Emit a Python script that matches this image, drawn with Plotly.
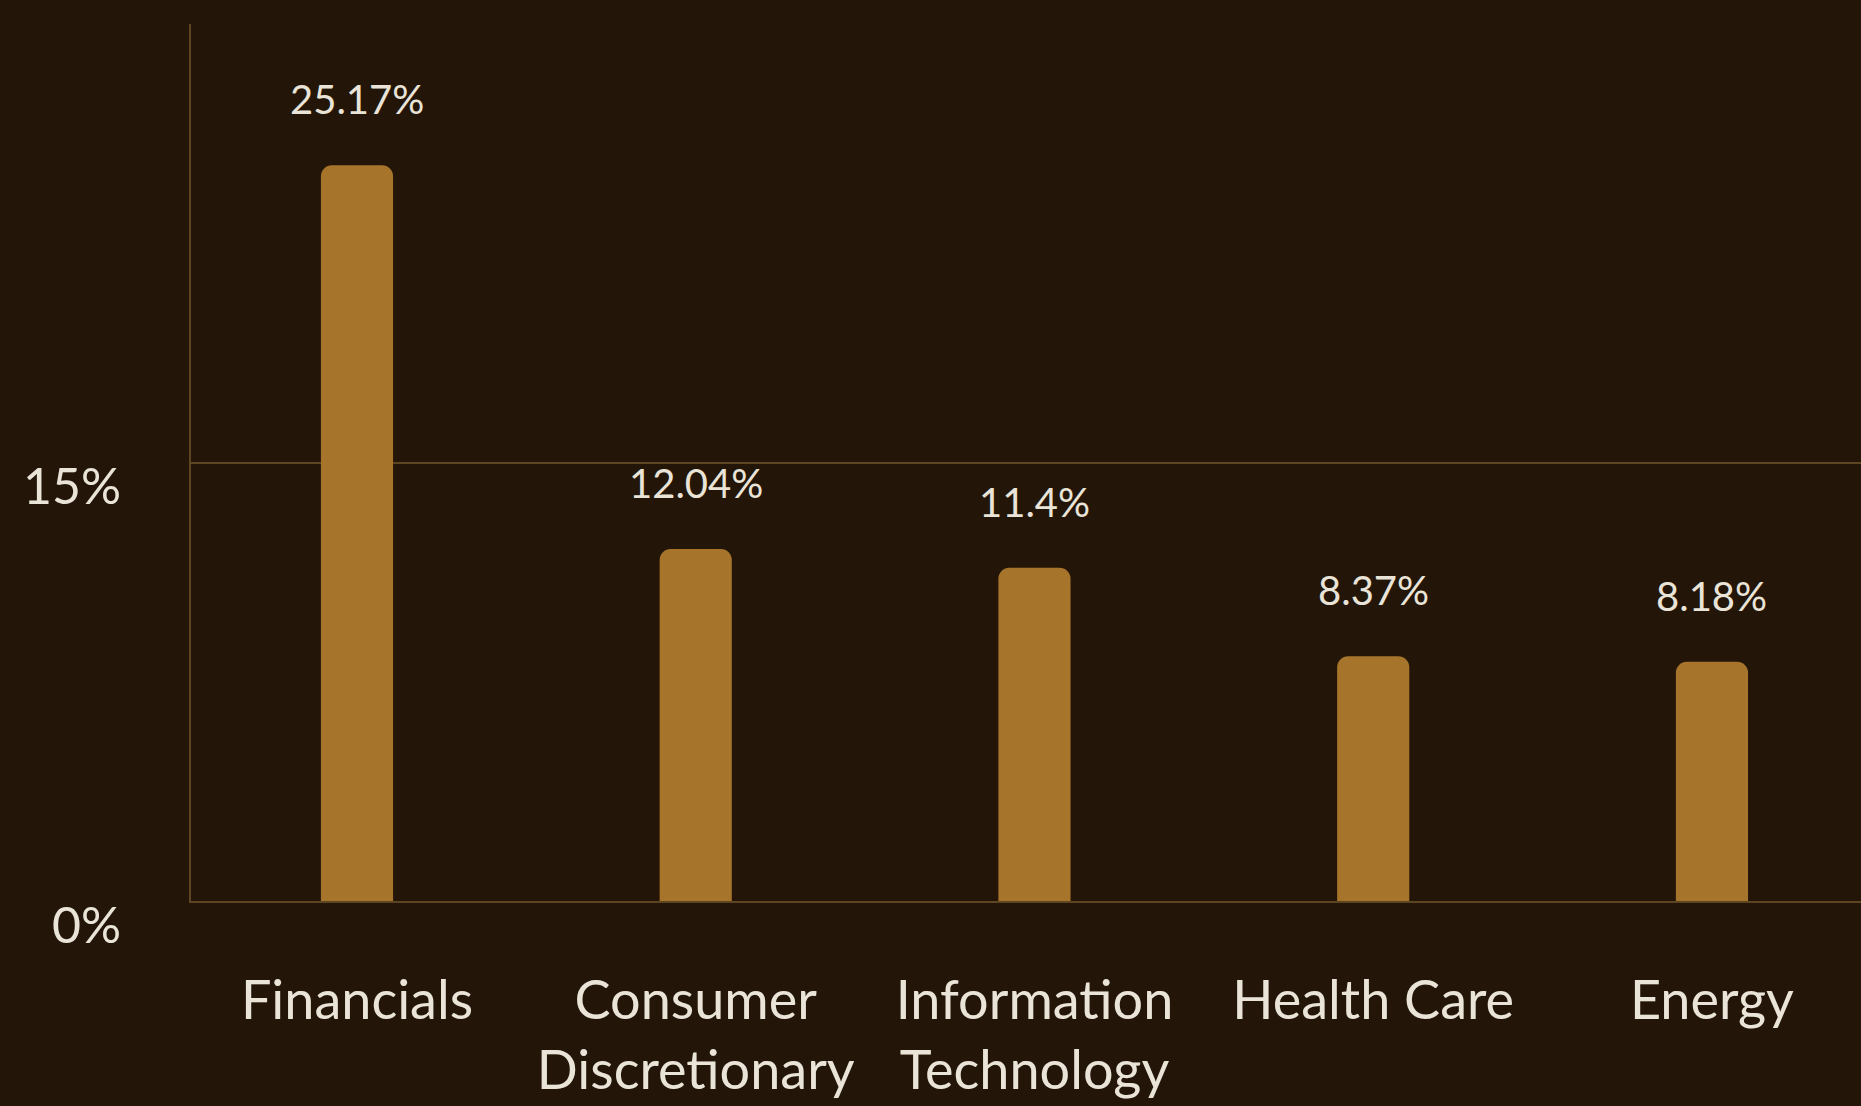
import plotly.graph_objects as go

# Sector weights (%)
sectors = ["Financials", "Consumer<br>Discretionary", "Information<br>Technology", "Health Care", "Energy"]
weights = [25.17, 12.04, 11.4, 8.37, 8.18]
y_tick_values = [0, 15]
y_tick_labels = ["0%", "15%"]

BG = "#231608"
BAR = "#A6742B"
LINE = "#5E4521"
TEXT = "#EAE4D8"
FONT = "Lato"

fig = go.Figure(
    go.Bar(
        x=sectors,
        y=weights,
        width=0.213,
        marker=dict(color=BAR, line=dict(width=0), cornerradius=11),
        hoverinfo="skip",
    )
)

# value labels floating above each bar
for s, v in zip(sectors, weights):
    fig.add_annotation(
        x=s, y=v, text=f"{v:g}%", showarrow=False,
        yanchor="middle", yshift=66,
        font=dict(family=FONT, size=40, color=TEXT),
    )

fig.update_layout(
    width=1861, height=1106,
    margin=dict(l=191, r=0, t=24, b=205),
    paper_bgcolor=BG, plot_bgcolor=BG,
    showlegend=False,
    font=dict(family=FONT, color=TEXT),
)

fig.update_xaxes(
    range=[-0.49, 4.44],
    showline=True, linecolor=LINE, linewidth=2,
    showgrid=False, zeroline=False, ticks="",
    tickfont=dict(family=FONT, size=54, color=TEXT),
    ticklabelstandoff=51,
)

fig.update_yaxes(
    range=[0, 30],
    tickvals=y_tick_values, ticktext=y_tick_labels,
    showline=True, linecolor=LINE, linewidth=2,
    showgrid=True, gridcolor=LINE, gridwidth=2,
    zeroline=False, ticks="",
    tickfont=dict(family=FONT, size=50, color=TEXT),
    ticklabelstandoff=58,
    ticklabelshift=24,
)

fig.write_html("out.html")
